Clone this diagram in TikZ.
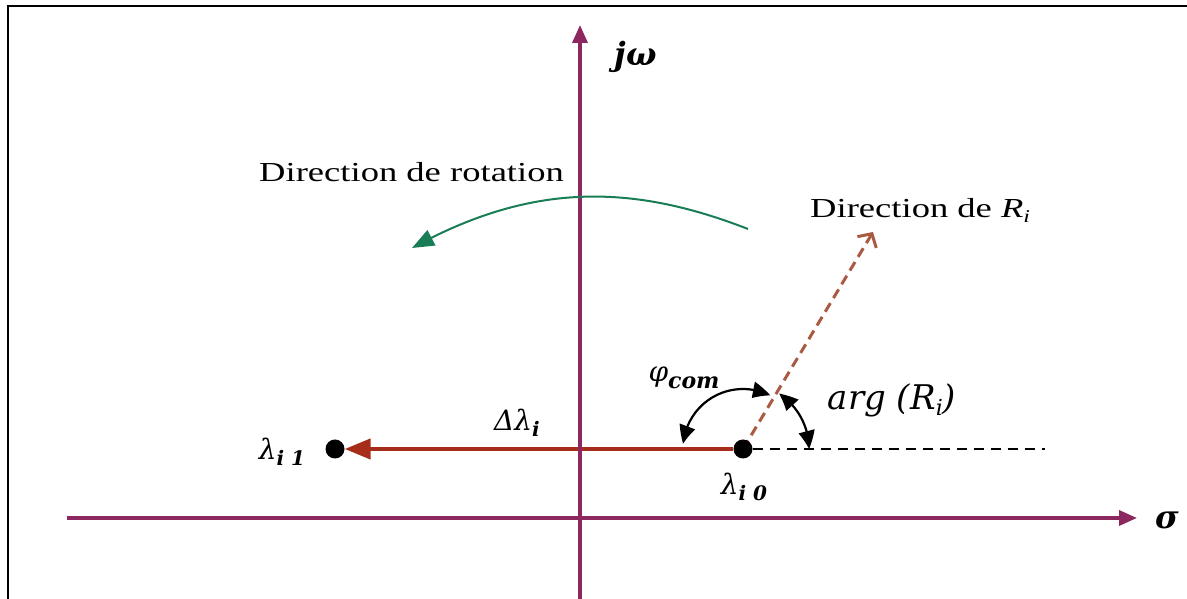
\documentclass[tikz,border=0pt]{standalone}
\usepackage{fontspec}
\setmainfont{Liberation Serif}
\newfontfamily\dirfont{Liberation Serif}[FakeStretch=1.33]
\newfontfamily\mlab{DejaVu Serif}
\usetikzlibrary{arrows.meta,bending}
\definecolor{axiscol}{RGB}{140,40,95}
\definecolor{greencol}{RGB}{25,125,85}
\definecolor{redcol}{RGB}{165,45,25}
\definecolor{browncol}{RGB}{170,90,65}
\newcommand{\lsub}[2]{\raisebox{-#1}{#2}}
\pgfdeclarelayer{bg}
\pgfsetlayers{bg,main}
\begin{document}
\begin{tikzpicture}[x=1pt,y=1pt,
  axis/.style={draw=axiscol,line width=3.5pt,-{Triangle[length=18pt,width=15pt]}},
  dirlabel/.style={font=\dirfont\fontsize{27.5}{30}\selectfont,inner sep=0pt,anchor=base west},
  mathlabel/.style={font=\mlab\itshape\fontsize{28}{30}\selectfont,inner sep=0pt},
  axlabel/.style={font=\mlab\bfseries\itshape\fontsize{32}{34}\selectfont,inner sep=0pt},
  ptnode/.style={circle,fill=black,inner sep=0pt,minimum size=19pt},
  anglearrow/.style={line width=2.2pt,{Triangle[length=18pt,width=16pt,bend]}-{Triangle[length=18pt,width=16pt,bend]}},
]
\useasboundingbox (0,0) rectangle (1187,599);
% frame
\draw[line width=2.5pt] (8,-2) -- (8,593) -- (1190,593);
% axes
\coordinate (xs) at (67,81);
\coordinate (xe) at (1137,81);
\coordinate (ys) at (580,-2);
\coordinate (ye) at (580,574);
\draw[axis] (xs) -- (xe);
\draw[axis] (ys) -- (ye);
\node[axlabel] (sig) at (1167,79) {σ};
\node[axlabel] (jw) at (636,542) {jω};
% points
\node[ptnode] (d0) at (743,150) {};
\node[ptnode] (d1) at (335,150) {};
% green rotation arc
\coordinate (ga) at (748,370);
\coordinate (gb) at (412,351);
\draw[greencol,line width=2pt,-{Triangle[length=22pt,width=17pt]}] (ga) .. controls (630,416) and (530,416) .. (gb);
\node[dirlabel] (rot) at (259,417) {Direction de rotation};
\node[dirlabel] (dr) at (810,381) {Direction de {\itshape R}\lsub{5pt}{\fontsize{18}{18}\selectfont\itshape i}};
% lines behind the points
\coordinate (rt) at (873,367);
\coordinate (de) at (1045,150);
\begin{pgfonlayer}{bg}
\draw[browncol,line width=3pt,dash pattern=on 10pt off 6pt,-{Straight Barb[length=10pt,width=22pt]}] (d0.center) -- (rt);
\draw[black,line width=1.5pt,dash pattern=on 10pt off 7pt] (d0.east) -- (de);
\draw[redcol,line width=4.5pt,-{Triangle[length=26pt,width=20pt]}] (d0.west) -- (d1.east);
\end{pgfonlayer}
% angle arcs
\draw[anglearrow] ([shift={(175:60pt)}]d0.center) arc[start angle=175,end angle=63,radius=60pt];
\draw[anglearrow] ([shift={(57:66pt)}]d0.center) arc[start angle=57,end angle=0,radius=66pt];
% labels
\node[mathlabel] (l1) at (282,147) {λ\lsub{6pt}{\fontsize{20}{20}\selectfont\bfseries i 1}};
\node[mathlabel] (l0) at (744,112) {λ\lsub{6pt}{\fontsize{20}{20}\selectfont\bfseries i 0}};
\node[mathlabel] (dl) at (517,176) {Δλ\lsub{6pt}{\fontsize{20}{20}\selectfont\bfseries i}};
\node[mathlabel] (phi) at (684,221) {φ\lsub{7pt}{\fontsize{22}{22}\selectfont\bfseries com}};
\node[mathlabel,font=\mlab\itshape\fontsize{34}{36}\selectfont] (arg) at (892,199) {arg (R\lsub{6pt}{\fontsize{22}{22}\selectfont i})};
\end{tikzpicture}
\end{document}
